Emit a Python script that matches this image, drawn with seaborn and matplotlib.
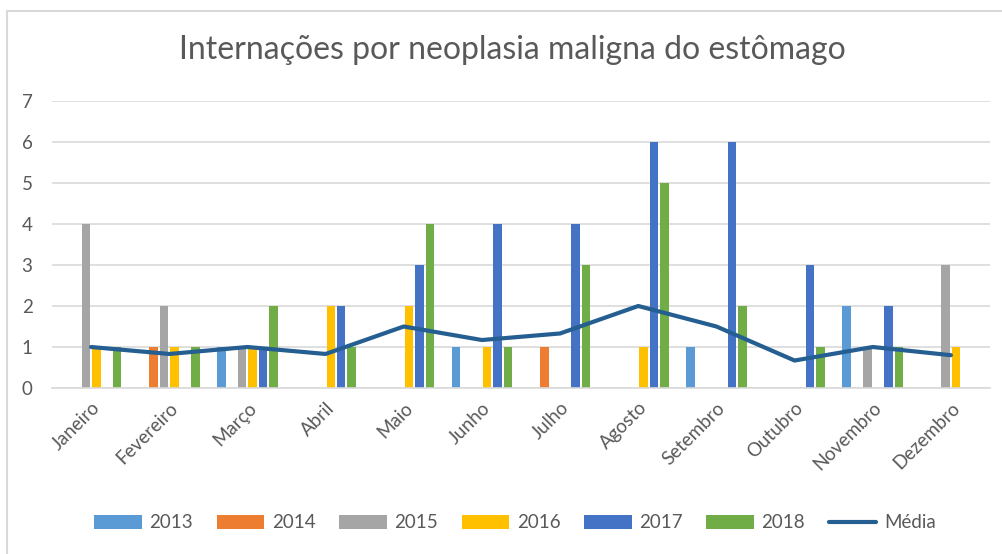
import numpy as np
import pandas as pd
import matplotlib
matplotlib.use("Agg")
import matplotlib.pyplot as plt
from matplotlib.patches import Patch, Rectangle
from matplotlib.lines import Line2D
import seaborn as sns

meses = ["Janeiro", "Fevereiro", "Março", "Abril", "Maio", "Junho",
         "Julho", "Agosto", "Setembro", "Outubro", "Novembro", "Dezembro"]
anos = ["2013", "2014", "2015", "2016", "2017", "2018"]
v2013 = [0, 0, 1, 0, 0, 1, 0, 0, 1, 0, 2, 0]
v2014 = [0, 1, 0, 0, 0, 0, 1, 0, 0, 0, 0, 0]
v2015 = [4, 2, 1, 0, 0, 0, 0, 0, 0, 0, 1, 3]
v2016 = [1, 1, 1, 2, 2, 1, 0, 1, 0, 0, 0, 1]
v2017 = [0, 0, 1, 2, 3, 4, 4, 6, 6, 3, 2, 0]
v2018 = [1, 1, 2, 1, 4, 1, 3, 5, 2, 1, 1, 0]
media = [1.0, 0.83, 1.0, 0.83, 1.5, 1.17, 1.33, 2.0, 1.5, 0.67, 1.0, 0.8]

cores = ["#5B9BD5", "#ED7D31", "#A5A5A5", "#FFC000", "#4472C4", "#70AD47"]
cor_media = "#255E91"
cinza = "#595959"

series = [v2013, v2014, v2015, v2016, v2017, v2018]
df = pd.DataFrame([
    {"Mês": m, "Ano": a, "Valor": s[i]}
    for a, s in zip(anos, series) for i, m in enumerate(meses)
])

sns.set_theme(style="white")
plt.rcParams["font.family"] = ["Lato", "DejaVu Sans"]

fig = plt.figure(figsize=(10.02, 5.54), dpi=100)
ax = fig.add_axes([52/1002, 1-388/554, 938/1002, 287/554])

sns.barplot(data=df, x="Mês", y="Valor", hue="Ano", order=meses,
            hue_order=anos, palette=cores, saturation=1, width=0.8, gap=0.18,
            linewidth=0, ax=ax, legend=False)
sns.lineplot(x=np.arange(len(meses)), y=media, color=cor_media,
             linewidth=3, ax=ax, legend=False)

ax.set_xlim(-0.5, len(meses) - 0.5)
ax.set_ylim(0, 7)
ax.set_yticks(range(0, 8))
ax.yaxis.grid(True, color="#D9D9D9", linewidth=1.2)
ax.set_axisbelow(True)
for s in ["left", "right", "top"]:
    ax.spines[s].set_visible(False)
ax.spines["bottom"].set_color("#D9D9D9")
ax.spines["bottom"].set_linewidth(1.2)
ax.set_xlabel("")
ax.set_ylabel("")
ax.tick_params(axis="y", length=0, pad=14, labelsize=13.5, labelcolor=cinza)
ax.tick_params(axis="x", length=0, pad=8, labelsize=13.5, labelcolor=cinza)
ax.set_xticks(range(len(meses)))
ax.set_xticklabels(meses, rotation=45, ha="right", va="top",
                   rotation_mode="anchor")

fig.text(512/1002, 1-50/554, "Internações por neoplasia maligna do estômago",
         ha="center", va="center", fontsize=23, color=cinza)

handles = [Patch(facecolor=c, edgecolor="none", label=a) for a, c in zip(anos, cores)]
handles.append(Line2D([0], [0], color=cor_media, linewidth=3, label="Média"))
leg = fig.legend(handles=handles, loc="center", ncol=7, frameon=False,
                 bbox_to_anchor=(515/1002, 1-523/554), fontsize=13.5,
                 handlelength=2.55, handleheight=0.7, handletextpad=0.4,
                 columnspacing=1.25)
for t in leg.get_texts():
    t.set_color(cinza)

fig.patches.append(Rectangle((7/1002, -0.05), 1.2, 1.05 - 11/554,
                             transform=fig.transFigure, fill=False,
                             edgecolor="#D9D9D9", linewidth=1.5))

fig.savefig("out.png", dpi=100)
